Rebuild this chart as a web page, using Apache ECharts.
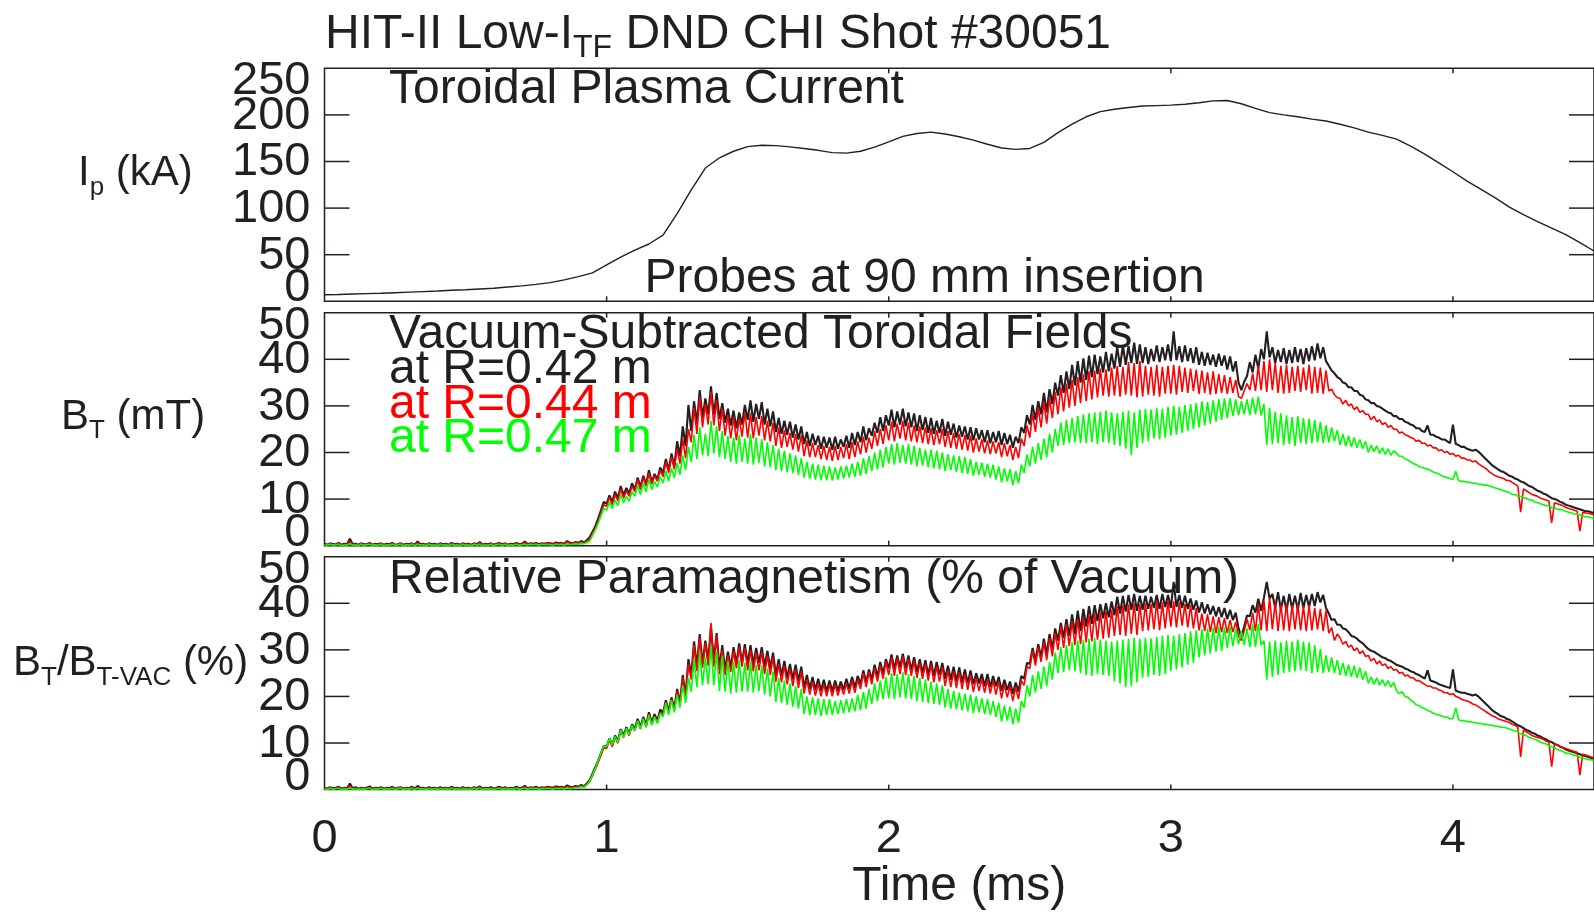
<!DOCTYPE html>
<html><head><meta charset="utf-8">
<script src="https://cdn.jsdelivr.net/npm/echarts@6.0.0/dist/echarts.min.js"></script>
<style>html,body{margin:0;padding:0;background:#fff}#c{width:1594px;height:912px}</style>
</head><body><div id="c"></div><script>
// ---------- DATA ----------
// Toroidal plasma current (kA), sampled every 0.05 ms from 0 to 4.5 ms
const ipTimeStep = 0.05;
const ipKA = [
 7.0,7.3,7.8,8.2,8.6,9.2,9.8,10.4,11.0,11.8,
 12.4,13.2,14.0,15.4,16.6,18.2,20.0,23.0,26.5,30.5,
 39.0,47.5,55.0,61.5,71.0,94.0,119.5,143.0,154.0,161.0,
 166.0,167.5,167.0,165.7,164.0,162.0,159.5,159.0,161.0,165.5,
 171.0,177.0,180.0,181.5,179.5,176.5,173.0,168.5,164.5,163.0,
 164.0,170.5,181.0,190.0,198.0,203.5,206.0,208.0,209.5,210.0,
 210.5,211.5,213.0,215.0,215.5,212.0,207.0,202.5,200.0,198.0,
 195.5,193.5,190.0,186.0,181.5,178.0,174.0,166.5,158.0,148.5,
 139.0,129.0,120.0,111.0,101.0,93.0,85.5,78.5,71.5,63.0,
 54.0];
// Probe signals sampled every 0.01 ms from 0 to 4.5 ms
const probeTimeStep = 0.01;
// Vacuum-subtracted toroidal field (mT)
const btR042 = [
 0.4,0.2,0.5,0.3,0.3,0.6,0.2,0.4,0.3,1.5, 0.3,0.4,0.2,0.5,0.3,0.3,0.6,0.2,0.4,0.3,
 0.5,0.2,0.4,0.3,0.6,0.2,0.3,0.5,0.2,0.4, 0.3,0.5,0.2,0.9,0.3,0.4,0.2,0.5,0.3,0.4,
 0.2,0.5,0.3,0.4,0.2,0.6,0.3,0.4,0.2,0.5, 0.3,0.4,0.2,0.5,0.3,0.8,0.2,0.4,0.3,0.5,
 0.2,0.4,0.6,0.3,0.5,0.2,0.4,0.3,0.6,0.3, 0.4,0.9,0.3,0.5,0.4,0.6,0.3,0.5,0.4,0.6,
 0.5,0.4,0.7,0.5,0.6,0.4,1.0,0.6,0.5,0.8, 0.6,1.0,0.7,1.2,1.8,3.0,4.2,5.8,7.6,9.4,
 9.0,10.8,9.4,11.6,10.2,12.8,10.8,12.4,11.2,13.4, 12.0,14.6,12.6,15.0,13.2,16.2,13.6,15.4,14.2,16.8,
 15.6,18.6,16.2,19.8,17.0,22.4,19.2,25.6,21.4,30.2, 24.6,31.0,26.2,33.4,27.4,31.6,28.2,34.2,28.0,32.8,
 27.2,30.6,26.4,29.4,25.8,29.0,25.2,28.6,26.0,30.2, 27.0,31.2,26.6,30.4,27.2,30.8,26.0,29.4,25.6,28.8,
 24.4,27.4,24.0,26.8,23.8,26.6,23.2,26.0,22.8,25.6, 21.8,24.4,21.4,24.0,21.6,23.6,20.8,23.4,21.0,23.2,
 20.6,23.4,20.8,22.8,21.2,23.6,21.0,24.2,21.6,24.4, 22.2,25.6,22.6,25.2,23.6,26.4,24.2,27.6,24.6,28.0,
 25.8,29.2,25.4,28.8,26.0,29.4,25.6,28.6,25.4,28.4, 24.6,28.0,24.8,27.6,24.2,27.4,24.0,26.8,24.2,27.2,
 23.6,26.6,23.8,26.2,23.2,25.8,23.4,25.6,22.8,25.4, 22.6,25.2,22.8,24.8,22.2,24.8,22.0,24.4,22.2,24.6,
 21.6,24.2,21.8,23.8,21.0,23.4,22.0,25.4,24.2,28.0, 26.0,30.2,27.0,31.0,28.2,32.8,28.6,33.6,30.4,35.0,
 32.2,36.6,32.8,37.4,33.6,38.8,34.4,39.6,35.0,40.2, 35.6,40.8,36.2,41.0,36.8,40.6,37.2,41.6,37.4,41.2,
 38.0,42.6,38.4,43.0,38.8,42.8,39.2,43.6,39.0,43.2, 39.2,42.6,39.0,42.2,39.6,43.0,39.4,42.6,39.8,43.2,
 39.6,46.0,39.8,42.8,39.4,43.0,39.6,42.4,39.2,42.6, 38.8,41.6,38.6,41.4,38.8,41.0,38.4,41.2,38.6,40.8,
 37.8,40.6,37.4,39.6,35.0,33.4,35.2,36.4,39.4,37.2, 41.0,38.0,42.2,40.0,46.0,40.4,42.6,39.2,42.0,39.4,
 42.4,39.0,42.0,39.2,42.6,39.4,42.2,39.0,42.4,39.6, 42.8,39.8,43.4,40.2,42.6,39.6,38.6,37.6,37.0,36.2,
 35.8,35.0,34.8,34.0,34.0,33.2,33.2,32.4,32.2,31.4, 31.2,30.6,30.6,30.0,29.8,29.4,29.0,28.6,28.4,27.8,
 27.8,27.2,27.2,26.6,26.4,26.0,25.8,25.2,25.2,24.6, 24.4,25.8,23.8,23.8,23.4,23.2,22.8,22.8,22.4,22.0,
 26.0,21.8,21.6,21.2,21.2,20.8,20.6,20.4,20.6,20.2, 19.6,19.0,18.4,17.8,17.2,16.8,16.4,16.0,15.8,15.4,
 15.0,14.8,14.4,14.2,13.8,13.6,13.2,12.8,12.6,12.2, 11.8,11.6,11.2,11.0,10.6,10.2,10.0,9.8,9.4,9.2,
 8.8,8.6,8.4,8.2,8.0,7.8,7.6,7.4,7.4,7.2, 7.0];
const btR044 = [
 0.3,0.1,0.4,0.2,0.2,0.5,0.1,0.3,0.2,0.9, 0.2,0.3,0.1,0.4,0.2,0.2,0.5,0.1,0.3,0.2,
 0.4,0.1,0.3,0.2,0.5,0.1,0.2,0.4,0.1,0.3, 0.2,0.4,0.1,0.6,0.2,0.3,0.1,0.4,0.2,0.3,
 0.1,0.4,0.2,0.3,0.1,0.5,0.2,0.3,0.1,0.4, 0.2,0.3,0.1,0.4,0.2,0.6,0.1,0.3,0.2,0.4,
 0.1,0.3,0.5,0.2,0.4,0.1,0.3,0.2,0.5,0.2, 0.3,0.7,0.2,0.4,0.3,0.5,0.2,0.4,0.3,0.5,
 0.4,0.3,0.6,0.4,0.5,0.3,0.8,0.5,0.4,0.7, 0.5,0.8,0.6,1.0,1.4,2.6,3.8,5.2,7.0,8.8,
 8.4,10.4,8.8,11.0,9.6,12.2,10.2,11.8,10.6,12.8, 11.6,14.2,12.0,14.6,12.8,15.6,13.2,15.0,13.8,16.2,
 14.8,18.0,15.6,19.0,16.4,20.8,17.6,22.8,18.8,25.0, 22.2,29.6,24.0,32.0,25.4,30.4,26.0,33.0,25.8,31.2,
 24.6,29.4,23.6,28.0,23.0,27.6,22.6,27.4,23.4,28.6, 23.2,28.4,23.0,27.6,23.6,27.8,22.6,26.8,22.4,26.4,
 21.4,25.4,21.0,24.8,21.2,24.2,20.6,24.0,20.2,23.6, 19.2,22.6,19.0,22.0,19.0,21.6,18.6,21.4,18.4,21.2,
 18.2,21.4,18.4,21.2,18.8,21.8,18.6,22.2,19.0,22.4, 19.6,23.4,20.0,23.2,20.8,24.6,21.4,25.0,21.8,25.8,
 22.6,26.6,22.4,26.2,23.0,26.8,22.6,26.4,22.4,25.8, 22.2,25.6,22.0,25.4,21.8,25.2,21.6,24.8,21.8,25.0,
 21.2,24.6,21.0,24.2,20.8,24.0,20.6,23.8,20.4,23.6, 20.0,23.0,20.2,22.8,19.8,22.6,19.6,22.4,19.8,22.2,
 19.0,22.0,19.2,21.6,18.4,21.2,18.8,23.0,21.4,25.8, 23.2,28.4,24.4,29.6,25.4,30.8,26.2,31.6,27.4,33.0,
 28.2,34.0,28.8,34.8,29.6,35.6,30.0,36.2,30.6,36.8, 31.0,37.4,31.4,37.6,31.8,38.0,32.2,37.8,32.0,38.2,
 32.2,38.6,32.0,38.4,32.4,39.4,32.2,39.2,31.8,39.6, 32.0,38.6,32.4,38.4,32.2,38.8,32.0,38.4,32.6,38.6,
 32.6,38.8,32.4,38.6,33.0,38.2,32.8,38.0,33.2,37.8, 32.6,37.6,32.8,37.2,32.4,37.4,32.6,36.8,32.8,36.6,
 32.6,36.2,32.8,35.6,32.0,31.6,33.2,34.8,33.4,37.0, 33.2,38.6,33.4,39.6,33.0,40.0,33.4,39.2,32.8,38.6,
 32.6,38.8,32.8,38.4,33.2,38.6,33.0,38.2,33.4,38.8, 32.6,38.4,32.8,38.2,32.6,37.6,33.2,33.6,32.4,31.8,
 31.6,30.4,31.2,30.0,30.4,29.2,29.8,28.6,29.0,28.2, 28.2,27.0,27.8,26.6,27.0,26.0,26.4,25.4,25.8,25.0,
 25.0,24.2,24.4,23.8,23.6,23.2,23.0,22.4,22.6,22.0, 22.0,21.4,21.6,21.0,21.0,20.4,20.6,20.0,20.2,19.6,
 19.8,19.2,19.4,18.8,18.8,18.4,18.4,18.0,18.2,17.6, 17.2,16.8,16.4,15.8,15.4,15.0,14.8,14.6,14.4,14.0,
 14.0,13.6,13.2,12.8,7.2,12.2,11.8,11.4,11.0,10.8, 10.6,10.2,10.0,9.8,9.6,4.9,9.2,9.0,8.8,8.6,
 8.2,8.0,7.8,7.6,7.4,3.1,7.2,7.0,6.9,6.8, 6.6];
const btR047 = [
 0.2,0.1,0.3,0.1,0.2,0.3,0.0,0.2,0.1,0.4, 0.1,0.2,0.0,0.3,0.1,0.2,0.3,0.1,0.2,0.1,
 0.3,0.0,0.2,0.1,0.3,0.1,0.2,0.3,0.0,0.2, 0.1,0.3,0.0,0.3,0.1,0.2,0.0,0.3,0.1,0.2,
 0.0,0.3,0.1,0.2,0.0,0.3,0.1,0.2,0.0,0.3, 0.1,0.2,0.0,0.3,0.1,0.3,0.0,0.2,0.1,0.3,
 0.0,0.2,0.3,0.1,0.3,0.0,0.2,0.1,0.3,0.1, 0.2,0.3,0.1,0.3,0.2,0.3,0.1,0.3,0.2,0.3,
 0.2,0.1,0.3,0.2,0.3,0.1,0.4,0.2,0.3,0.4, 0.3,0.5,0.4,0.7,1.0,2.2,3.4,4.8,6.4,8.0,
 7.6,9.4,8.0,9.8,8.6,11.0,9.2,10.6,9.6,11.6, 10.6,13.0,11.0,13.4,11.6,14.2,12.0,13.8,12.6,14.8,
 13.4,16.0,13.8,16.6,14.6,17.8,15.2,19.4,16.2,21.2, 18.0,23.8,18.6,25.4,19.4,24.0,19.2,26.8,19.8,25.6,
 19.0,24.6,18.6,23.6,18.0,23.2,17.6,23.8,18.0,23.0, 17.6,24.0,17.4,23.2,17.8,22.8,17.0,22.2,16.8,21.6,
 16.2,20.8,16.0,20.4,15.8,19.8,15.6,19.4,15.2,18.8, 14.6,18.0,14.4,17.6,14.2,17.4,14.0,17.2,14.0,17.0,
 14.0,16.8,14.2,17.0,14.4,17.2,14.6,17.6,14.8,18.0, 15.0,18.8,15.4,19.2,16.0,20.0,16.4,20.6,16.8,21.2,
 17.6,21.8,17.4,22.0,17.8,21.6,17.6,21.8,17.4,21.4, 17.0,21.0,17.2,20.6,16.8,20.6,16.6,20.4,16.4,20.0,
 16.0,19.6,16.2,19.4,15.8,19.2,15.6,19.0,15.4,18.6, 15.0,18.0,15.2,17.8,14.8,17.6,14.6,17.4,14.2,17.0,
 13.6,16.6,13.8,16.4,13.0,16.0,13.4,17.4,15.6,19.6, 17.0,21.2,17.6,22.0,18.4,23.0,19.0,24.0,20.0,25.0,
 21.4,26.4,21.6,27.0,22.0,27.4,22.2,27.8,22.0,28.2, 22.0,28.4,22.2,28.6,21.8,28.8,22.2,29.0,22.0,28.6,
 21.6,28.4,21.4,28.8,20.8,29.0,19.4,28.6,21.0,29.2, 22.0,29.4,22.4,29.2,23.0,29.6,22.8,29.4,23.2,29.8,
 23.6,30.0,23.8,29.8,24.2,30.2,24.6,30.4,25.0,30.6, 25.4,31.0,25.8,30.8,26.2,31.2,26.6,31.4,27.0,31.6,
 27.4,31.6,27.8,31.4,28.0,31.0,28.2,31.4,28.0,31.8, 28.2,32.0,28.0,30.4,21.6,29.6,21.8,28.8,22.0,28.4,
 21.6,28.0,21.8,27.6,21.4,27.8,22.0,27.4,21.8,27.2, 22.0,27.0,22.2,26.6,22.0,25.8,22.2,25.4,22.4,24.8,
 21.6,24.0,21.4,23.6,21.2,23.2,21.0,22.8,20.8,22.4, 20.0,21.6,20.2,21.4,19.8,21.0,19.6,20.8,19.4,20.4,
 19.8,19.2,19.2,18.6,18.4,18.0,17.6,17.4,17.0,16.8, 16.6,16.4,16.2,15.8,15.6,15.4,15.0,14.8,14.6,14.4,
 14.2,16.0,14.0,13.8,13.8,13.6,13.6,13.4,13.4,13.2, 13.2,13.0,13.0,12.8,12.6,12.4,12.2,12.0,11.8,11.6,
 11.4,11.0,11.0,10.6,10.6,10.2,10.2,9.8,9.8,9.4, 9.2,9.0,8.8,8.6,8.6,8.2,8.2,7.8,7.8,7.6,
 7.4,7.2,7.0,6.8,6.8,6.6,6.4,6.2,6.2,6.0, 5.8];
// Relative paramagnetism (% of vacuum field)
const relR042 = [
 0.4,0.2,0.5,0.3,0.4,0.6,0.2,0.4,0.3,1.3, 0.3,0.5,0.2,0.4,0.3,0.4,0.7,0.2,0.4,0.3,
 0.5,0.2,0.4,0.3,0.6,0.2,0.4,0.5,0.2,0.4, 0.3,0.6,0.2,0.8,0.3,0.4,0.2,0.5,0.3,0.4,
 0.2,0.5,0.3,0.4,0.2,0.6,0.3,0.4,0.2,0.5, 0.3,0.4,0.2,0.5,0.3,0.7,0.2,0.4,0.3,0.5,
 0.2,0.4,0.6,0.3,0.5,0.2,0.4,0.3,0.6,0.3, 0.4,0.8,0.3,0.5,0.4,0.6,0.3,0.5,0.4,0.6,
 0.5,0.4,0.7,0.5,0.6,0.4,0.9,0.6,0.5,0.8, 0.6,1.0,0.7,1.3,2.0,3.4,4.8,6.2,7.8,9.4,
 9.2,11.0,9.6,11.6,10.4,13.0,11.6,13.4,12.0,14.0, 13.0,15.2,13.4,15.6,13.8,16.6,14.4,16.2,14.8,17.2,
 16.4,19.2,16.8,19.8,17.4,21.6,18.6,24.6,20.2,28.0, 24.6,31.8,26.4,33.4,27.0,32.0,27.8,35.0,27.6,33.6,
 26.0,31.0,25.6,29.6,26.2,30.6,27.0,31.4,27.2,31.2, 27.0,31.0,26.8,30.4,27.2,30.6,26.4,29.8,26.0,29.4,
 24.6,28.0,24.4,27.6,24.0,27.0,23.6,26.8,23.2,26.4, 21.8,24.6,21.6,24.2,21.4,23.8,21.2,23.6,21.0,23.4,
 21.0,23.4,21.2,23.2,21.4,23.8,21.6,24.2,21.8,24.4, 22.6,25.6,23.0,25.8,23.6,26.8,24.2,27.4,24.8,28.0,
 26.0,29.0,25.8,28.8,26.2,29.2,26.0,28.8,25.6,28.4, 25.2,28.0,25.0,27.8,24.6,27.6,24.4,27.4,24.6,27.2,
 23.8,26.6,23.6,26.4,23.2,26.2,23.0,25.8,22.8,25.6, 22.6,25.0,22.8,24.8,22.2,24.8,22.0,24.4,22.2,24.2,
 21.2,23.6,21.4,23.2,20.6,23.0,21.0,24.4,23.8,27.2, 27.0,30.4,27.6,31.2,28.4,32.4,29.0,33.4,30.2,34.6,
 32.0,35.8,32.6,36.6,33.0,37.6,33.4,38.4,34.0,38.8, 35.0,39.4,35.6,39.6,36.2,39.8,36.8,40.0,37.0,40.4,
 37.4,41.4,37.8,41.6,38.2,41.8,38.6,42.0,38.4,41.6, 38.6,41.6,38.8,41.4,39.0,41.8,38.8,42.0,39.2,41.8,
 39.0,44.6,39.2,41.8,39.0,41.6,38.8,41.0,38.6,40.6, 38.0,40.2,37.8,39.8,37.6,39.4,37.2,39.2,37.0,39.0,
 36.6,38.6,36.4,38.0,34.6,32.8,35.0,37.4,37.2,39.6, 38.0,41.0,38.4,41.2,44.6,41.0,42.0,39.0,42.4,38.6,
 41.6,38.4,42.0,38.8,41.6,38.6,42.2,39.0,41.8,39.2, 42.0,39.4,42.4,40.2,41.8,39.0,37.8,36.4,36.6,35.4,
 35.4,34.6,34.4,33.8,33.0,32.8,32.4,31.8,31.4,30.8, 30.2,29.8,29.6,29.2,28.8,28.4,28.2,27.8,27.6,27.2,
 26.8,26.6,26.4,26.0,25.8,25.4,25.2,24.8,24.6,24.2, 23.8,25.6,23.4,23.2,23.0,22.6,22.4,22.2,22.0,21.8,
 25.8,21.2,21.0,20.8,20.8,20.6,20.4,20.2,20.4,20.0, 19.4,18.8,18.2,17.6,17.0,16.6,16.2,15.8,15.6,15.2,
 15.0,14.6,14.2,13.8,13.6,13.2,12.8,12.6,12.2,12.0, 11.6,11.4,11.0,10.8,10.4,10.2,9.8,9.6,9.2,9.0,
 8.6,8.4,8.2,8.0,7.8,7.6,7.4,7.2,7.0,6.8, 6.6];
const relR044 = [
 0.3,0.1,0.4,0.2,0.3,0.4,0.1,0.3,0.2,0.8, 0.2,0.3,0.1,0.3,0.2,0.3,0.5,0.1,0.3,0.2,
 0.4,0.1,0.3,0.2,0.4,0.1,0.3,0.4,0.1,0.3, 0.2,0.4,0.1,0.5,0.2,0.3,0.1,0.4,0.2,0.3,
 0.1,0.4,0.2,0.3,0.1,0.4,0.2,0.3,0.1,0.4, 0.2,0.3,0.1,0.4,0.2,0.5,0.1,0.3,0.2,0.4,
 0.1,0.3,0.4,0.2,0.4,0.1,0.3,0.2,0.4,0.2, 0.3,0.6,0.2,0.4,0.3,0.4,0.2,0.4,0.3,0.5,
 0.4,0.3,0.5,0.4,0.5,0.3,0.7,0.5,0.4,0.6, 0.5,0.8,0.6,1.1,1.7,3.0,4.4,5.8,7.4,9.0,
 8.8,10.6,9.2,11.2,10.0,12.6,11.2,13.0,11.6,13.6, 12.6,14.8,13.0,15.2,13.4,16.2,14.0,15.8,14.4,16.6,
 16.0,18.8,16.4,19.4,17.0,21.2,18.2,24.0,19.6,27.0, 23.6,31.0,25.4,32.6,26.2,31.4,26.6,35.8,26.4,33.0,
 24.8,30.0,24.6,28.8,25.2,29.8,26.0,30.6,26.4,30.4, 25.6,30.0,25.4,29.4,25.6,29.6,24.8,28.8,24.6,28.4,
 23.2,27.0,23.0,26.6,22.6,26.0,22.2,25.8,21.8,25.4, 20.6,23.6,20.4,23.2,20.2,22.8,20.0,22.6,20.0,22.6,
 20.0,22.6,20.2,22.4,20.4,22.8,20.6,23.4,20.8,23.6, 21.6,25.0,22.0,25.2,22.6,26.0,23.2,26.6,23.8,27.4,
 24.6,28.4,24.4,28.2,24.8,28.6,24.6,28.0,24.4,27.6, 24.0,27.2,23.8,27.0,23.4,26.8,23.0,26.4,23.2,26.4,
 22.2,25.6,22.0,25.4,21.8,25.2,21.6,24.8,21.4,24.6, 21.0,24.0,21.2,23.8,20.8,23.6,20.6,23.4,20.4,23.2,
 19.6,22.6,19.8,22.2,19.0,22.0,19.4,23.4,22.4,26.4, 26.0,29.8,26.6,30.6,27.4,31.6,27.8,32.6,28.6,33.6,
 30.0,35.0,30.4,35.6,30.8,36.2,31.0,36.6,31.2,37.0, 31.6,37.6,31.8,37.8,32.2,38.0,32.4,38.4,32.6,38.6,
 33.0,39.4,33.2,39.6,33.0,39.8,33.4,40.0,33.2,39.8, 34.0,40.0,34.2,39.8,34.4,40.4,34.2,40.2,34.6,40.6,
 35.0,40.4,34.8,40.2,35.2,39.8,34.8,39.6,34.6,39.0, 34.2,37.8,34.0,37.6,33.8,37.2,33.6,37.0,33.8,36.8,
 33.6,36.4,33.8,36.0,33.0,32.0,34.0,36.6,34.2,38.0, 34.0,39.8,34.2,40.6,34.0,41.2,34.4,40.2,34.0,39.8,
 34.2,40.0,34.0,39.6,34.4,39.8,34.2,39.4,34.0,39.6, 34.2,39.0,34.4,38.8,34.0,38.4,33.6,34.8,32.0,33.4,
 32.6,31.2,31.8,30.6,31.0,29.8,30.4,29.2,29.8,28.6, 28.8,27.6,28.2,27.0,27.6,26.6,27.0,26.0,26.4,25.6,
 25.8,25.0,25.2,24.4,24.6,24.0,24.0,23.4,23.4,23.0, 22.6,22.2,22.2,21.8,21.8,21.4,21.2,20.8,20.8,20.4,
 20.6,20.0,19.8,19.4,19.2,19.0,18.8,18.4,18.2,17.8, 17.4,17.0,16.6,16.2,15.8,15.6,15.2,15.0,14.8,14.6,
 14.4,14.0,13.8,13.4,7.0,12.8,12.4,12.0,11.6,11.4, 11.2,11.0,10.8,10.4,10.2,4.9,9.8,9.6,9.2,9.0,
 8.8,8.6,8.4,8.2,8.0,3.1,7.6,7.4,7.2,7.0, 6.8];
const relR047 = [
 0.2,0.0,0.3,0.1,0.2,0.3,0.0,0.2,0.1,0.3, 0.1,0.2,0.0,0.2,0.1,0.2,0.3,0.0,0.2,0.1,
 0.3,0.0,0.2,0.1,0.3,0.0,0.2,0.3,0.0,0.2, 0.1,0.3,0.0,0.3,0.1,0.2,0.0,0.2,0.1,0.2,
 0.0,0.2,0.1,0.2,0.0,0.3,0.1,0.2,0.0,0.2, 0.1,0.2,0.0,0.3,0.1,0.3,0.0,0.2,0.1,0.2,
 0.0,0.2,0.3,0.1,0.2,0.0,0.2,0.1,0.3,0.1, 0.2,0.3,0.1,0.3,0.2,0.3,0.1,0.2,0.2,0.3,
 0.2,0.1,0.3,0.2,0.3,0.1,0.4,0.2,0.3,0.4, 0.4,0.6,0.5,1.0,1.8,3.2,4.6,6.2,7.8,9.4,
 9.2,11.0,9.6,11.4,10.2,12.8,11.2,13.2,11.8,13.8, 12.6,14.8,13.0,15.2,13.4,16.0,13.8,15.6,14.2,16.4,
 15.6,18.6,16.0,19.2,16.6,20.4,17.6,22.4,18.6,24.0, 21.0,28.0,22.0,29.6,22.4,28.4,22.6,30.8,22.4,29.6,
 21.2,28.8,21.0,27.6,20.6,27.4,20.8,27.8,21.0,27.2, 21.0,27.4,20.8,26.8,21.2,26.6,20.4,26.0,20.0,25.4,
 18.8,24.0,18.6,23.4,18.2,22.8,17.8,22.2,17.4,21.6, 16.2,20.0,16.0,19.8,16.0,19.6,15.8,19.4,16.0,19.4,
 16.0,19.0,16.2,19.2,16.4,19.4,16.6,19.6,16.8,20.4, 17.0,21.0,17.4,21.6,18.4,22.8,19.0,23.4,19.4,24.2,
 19.6,25.0,19.4,24.8,19.8,25.2,19.6,24.8,19.4,24.4, 19.0,24.0,18.8,23.6,18.6,23.2,18.4,22.8,18.2,22.4,
 17.6,21.6,17.4,21.2,17.2,20.8,17.0,20.6,16.8,20.4, 16.4,20.0,16.6,19.6,16.2,19.4,16.0,19.0,15.6,18.6,
 14.6,18.0,14.8,17.8,14.0,17.4,14.4,19.0,17.6,22.4, 20.0,24.6,20.8,25.4,21.6,26.4,22.2,27.4,23.6,29.4,
 25.0,30.6,25.2,31.0,25.6,31.6,25.4,32.0,25.0,32.2, 24.6,32.4,24.4,32.6,24.8,32.2,24.6,32.0,24.4,31.8,
 23.2,32.0,22.8,32.2,22.0,32.4,22.2,32.6,23.0,32.4, 24.0,32.6,24.2,32.4,24.6,32.8,24.4,33.0,24.8,33.2,
 25.4,33.0,25.8,33.4,26.2,33.6,26.8,34.0,27.2,34.2, 28.4,34.4,28.8,34.6,29.2,34.8,29.6,35.0,29.8,34.8,
 30.4,35.0,30.8,34.6,31.2,34.0,31.0,34.6,30.6,35.4, 30.6,35.6,31.0,32.0,23.6,31.8,24.2,32.0,24.6,31.6,
 25.0,32.0,25.2,31.8,25.4,32.2,25.6,31.8,25.4,31.6, 25.0,31.0,25.2,30.2,25.0,28.8,25.2,28.4,25.0,27.8,
 24.6,27.2,24.4,26.8,24.2,26.6,24.0,26.2,23.6,25.4, 22.8,24.2,22.6,24.0,22.4,23.6,22.2,23.4,22.0,23.0,
 21.2,20.6,21.0,20.0,19.8,19.2,18.8,18.2,18.0,17.6, 17.4,17.0,16.8,16.4,16.2,16.0,15.8,15.6,15.6,15.2,
 15.2,17.6,15.0,14.8,14.8,14.6,14.6,14.4,14.4,14.2, 14.2,14.0,14.0,13.8,13.8,13.6,13.6,13.4,13.4,13.2,
 13.0,12.8,12.6,12.4,12.0,11.8,11.6,11.2,11.0,10.8, 10.6,10.2,10.0,9.8,9.4,9.2,9.0,8.6,8.4,8.2,
 7.8,7.8,7.6,7.4,7.2,7.0,6.8,6.6,6.4,6.4, 6.2];

// Axis tick labels
const timeTicks = [0, 1, 2, 3, 4];
const ipTicks = [0, 50, 100, 150, 200, 250];
const btTicks = [0, 10, 20, 30, 40, 50];
const relTicks = [0, 10, 20, 30, 40, 50];

// ---------- CHART ----------
const FONT = '"Liberation Sans", Arial, Helvetica, sans-serif';
const INK = '#231f20', RED = '#ff0000', GREEN = '#00ff00';
const chart = echarts.init(document.getElementById('c'), null, {renderer: 'canvas'});
const withTime = (vals, step) => vals.map((v, i) => [+(i * step).toFixed(3), v]);

const T_MAX = 4.5;
const gridBox = {left: 324.5, width: 1278.5};
const grids = [
  {top: 68.3, height: 233},
  {top: 312.7, height: 233},
  {top: 556.7, height: 233.3}
].map(g => Object.assign({show: true, borderColor: INK, borderWidth: 1.5, backgroundColor: 'transparent'}, gridBox, g));

const tickSets = [ipTicks, btTicks, relTicks];
const xAxes = [0, 1, 2].map(i => ({
  gridIndex: i, type: 'value', position: 'bottom',
  min: timeTicks[0], max: T_MAX, interval: timeTicks[1] - timeTicks[0],
  axisLine: {show: false}, axisTick: {show: false}, splitLine: {show: false},
  axisLabel: {show: i === 2, showMinLabel: true, showMaxLabel: false, margin: 25.5, fontSize: 47, fontFamily: FONT, color: INK},
  name: i === 2 ? 'Time (ms)' : '', nameLocation: 'middle', nameGap: 67.5,
  nameTextStyle: {fontSize: 48, fontFamily: FONT, color: INK}
}));
const yAxes = tickSets.map((ticks, i) => ({
  gridIndex: i, type: 'value', position: 'left',
  min: ticks[0], max: ticks[ticks.length - 1], interval: ticks[1] - ticks[0],
  axisLine: {show: false}, axisTick: {show: false}, splitLine: {show: false}, axisLabel: {show: false}
}));

const TICK_STYLE = {stroke: INK, lineWidth: 1.5};
// y ticks (inward on both sides) and y tick labels, positioned through the axis scales
function yTickSeries(i, ticks) {
  const mn = ticks[0], mx = ticks[ticks.length - 1];
  return {
    type: 'custom', xAxisIndex: i, yAxisIndex: i, silent: true, z: 10, clip: false,
    data: ticks.map(v => [timeTicks[0], v]),
    renderItem: (params, api) => {
      const v = api.value(1);
      const L = api.coord([timeTicks[0], v]);
      const R = api.coord([T_MAX, v]);
      const children = [];
      if (v !== mn && v !== mx) {
        children.push({type: 'line', shape: {x1: L[0], y1: L[1], x2: L[0] + 25, y2: L[1]}, style: TICK_STYLE});
        children.push({type: 'line', shape: {x1: R[0] - 25, y1: R[1], x2: R[0], y2: R[1]}, style: TICK_STYLE});
      }
      const dy = v === mx ? 13 : (v === mn ? -13 : 1);
      children.push({type: 'text', x: L[0] - 14, y: L[1] + dy,
        style: {text: String(v), fontSize: 47, fontFamily: FONT, fill: INK, align: 'right', verticalAlign: 'middle'}});
      return {type: 'group', children: children};
    }
  };
}
// x ticks (short, inward at top and bottom of each panel)
function xTickSeries(i, ticks) {
  const mn = ticks[0], mx = ticks[ticks.length - 1];
  return {
    type: 'custom', xAxisIndex: i, yAxisIndex: i, silent: true, z: 10, clip: false,
    data: timeTicks.map(t => [t, mn]),
    renderItem: (params, api) => {
      const t = api.value(0);
      if (t === timeTicks[0]) return {type: 'group', children: []};
      const B = api.coord([t, mn]);
      const T = api.coord([t, mx]);
      return {type: 'group', children: [
        {type: 'line', shape: {x1: B[0], y1: B[1], x2: B[0], y2: B[1] - 5}, style: TICK_STYLE},
        {type: 'line', shape: {x1: T[0], y1: T[1], x2: T[0], y2: T[1] + 5}, style: TICK_STYLE}
      ]};
    }
  };
}

function line(idx, data, color, width, z) {
  return {type: 'line', xAxisIndex: idx, yAxisIndex: idx, data: data, showSymbol: false, symbol: 'none',
    sampling: null, silent: true, z: z, lineStyle: {color: color, width: width}, emphasis: {disabled: true}};
}
const series = [
  line(0, withTime(ipKA, ipTimeStep), INK, 1.4, 2),
  line(1, withTime(btR042, probeTimeStep), INK, 2.1, 2),
  line(1, withTime(btR044, probeTimeStep), RED, 1.6, 3),
  line(1, withTime(btR047, probeTimeStep), GREEN, 1.6, 4),
  line(2, withTime(relR042, probeTimeStep), INK, 2.1, 2),
  line(2, withTime(relR044, probeTimeStep), RED, 1.6, 3),
  line(2, withTime(relR047, probeTimeStep), GREEN, 1.6, 4)
];
tickSets.forEach((ticks, i) => { series.push(yTickSeries(i, ticks)); series.push(xTickSeries(i, ticks)); });

function txt(x, y, text, size, color) {
  return {type: 'text', x: x, y: y, z: 100, silent: true,
    style: {text: text, fontSize: size, fontFamily: FONT, fill: color, verticalAlign: 'top', align: 'left'}};
}
function richTxt(x, y, parts, size, subSize, subPad) {
  return {type: 'text', x: x, y: y, z: 100, silent: true,
    style: {text: parts, verticalAlign: 'top', align: 'left', fontSize: size, fontFamily: FONT, fill: INK,
      rich: {
        m: {fontSize: size, fontFamily: FONT, fill: INK, verticalAlign: 'top'},
        s: {fontSize: subSize, fontFamily: FONT, fill: INK, verticalAlign: 'top', padding: [subPad, 0, 0, 0]}
      }}};
}
const graphic = [
  richTxt(325, 10.5, '{m|HIT-II Low-I}{s|TF}{m| DND CHI Shot #30051}', 48, 32, 22),
  txt(389, 66.2, 'Toroidal Plasma Current', 48, INK),
  txt(644.5, 254.5, 'Probes at 90 mm insertion', 48, INK),
  txt(389, 311.2, 'Vacuum-Subtracted Toroidal Fields', 48, INK),
  txt(389, 346.2, 'at R=0.42 m', 48, INK),
  txt(389, 381.2, 'at R=0.44 m', 48, RED),
  txt(389, 414.5, 'at R=0.47 m', 48, GREEN),
  txt(389, 556.2, 'Relative Paramagnetism (% of Vacuum)', 48, INK),
  richTxt(78, 152.5, '{m|I}{s|p}{m| (kA)}', 42, 26, 22),
  richTxt(61, 396, '{m|B}{s|T}{m| (mT)}', 42, 26, 22),
  richTxt(13, 642.5, '{m|B}{s|T}{m|/B}{s|T-VAC}{m| (%)}', 42, 26, 22)
];

chart.setOption({
  animation: false, backgroundColor: '#ffffff',
  grid: grids, xAxis: xAxes, yAxis: yAxes, series: series, graphic: graphic
});
</script></body></html>
